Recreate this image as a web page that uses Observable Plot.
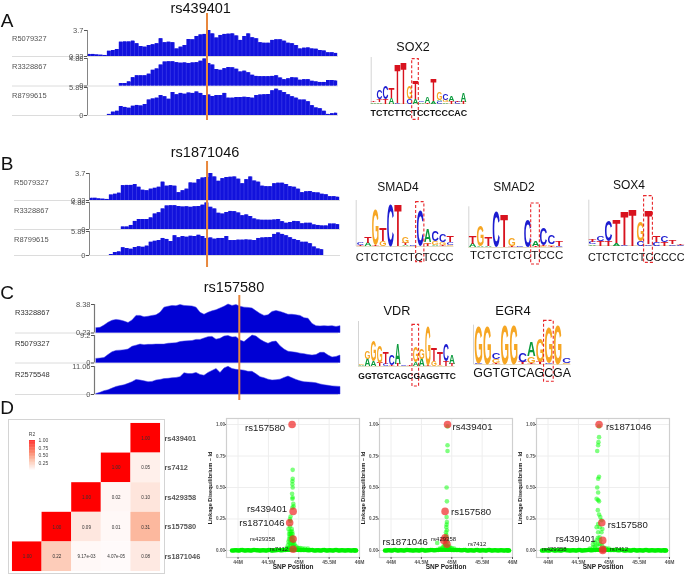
<!DOCTYPE html>
<html><head><meta charset="utf-8">
<style>
html,body{margin:0;padding:0;background:#fff}
#root{position:relative;width:685px;height:575px;overflow:hidden;font-family:"Liberation Sans",Arial,sans-serif;filter:blur(.35px)}
#root svg{overflow:visible}
.lbl{position:absolute;white-space:nowrap;line-height:1}
</style>
<script src="https://cdn.jsdelivr.net/npm/d3@7"></script>
<script src="https://cdn.jsdelivr.net/npm/@observablehq/plot@0.6"></script>
</head><body><div id="root"></div>
<script>
// ---- signal tracks: height of each bin as % of the track's axis range
const r5079327a = [8,8,6,5,4,20,23,27,55,56,56,59,49,38,36,42,45,49,68,53,55,53,29,36,42,65,64,77,83,85,100,87,71,81,85,86,87,79,62,77,87,72,68,53,51,51,62,64,64,59,51,49,42,29,32,33,29,28,23,21,14,14,12];
const r3328867a = [0,0,0,0,0,0,0,0,9,9,15,30,37,37,37,43,57,62,76,87,88,88,85,83,84,82,84,85,90,98,82,76,60,57,63,67,66,61,51,54,48,39,35,34,34,34,35,37,29,23,26,30,29,21,23,23,17,15,13,13,20,20,18];
const r8799615a = [0,0,0,0,0,4,12,15,32,29,26,33,36,34,39,55,59,62,71,67,58,82,74,79,76,80,79,84,79,71,73,68,71,71,79,62,62,64,64,65,64,62,71,73,74,75,88,94,88,82,74,67,62,55,55,49,35,27,24,15,4,6,8];
const r3328867c = [17,18,26,36,43,46,44,40,35,44,60,60,55,57,60,62,71,89,92,95,94,98,95,94,93,89,71,64,71,76,80,86,92,100,95,98,92,89,88,86,76,67,60,62,74,77,74,69,64,64,62,60,52,50,32,24,23,24,23,24,21,24];
const r5079327c = [15,16,18,29,39,44,45,46,49,59,63,67,65,66,66,67,67,67,70,71,72,76,78,79,80,84,84,89,94,95,85,88,96,98,93,94,82,76,88,100,96,85,76,70,76,78,61,49,41,39,37,34,32,29,27,29,37,37,27,20,22,27];
const r2575548c = [2,6,12,15,21,27,30,33,38,44,52,50,47,44,45,50,52,55,56,58,59,62,76,73,73,77,70,67,77,84,91,77,93,99,91,88,87,85,81,81,72,62,58,53,50,51,53,59,64,58,52,47,44,43,42,40,36,33,31,29,28,27];
const blue = "#1212dc", blueHalo = "#3a3ae6", deepBlue = "#0000d4", orange = "#e8873c";

// ---- sequence logos: bottom-to-top [letter, height] per position
const sox2Stacks = [[["A",5],["T",5]],[["A",5],["T",8],["C",28]],[["T",15],["C",40]],[["A",18],["T",30]],[["C",2],["T",120]],[["T",125]],[["C",15],["G",40]],[["A",15],["T",55]],[["A",4],["C",4]],[["T",3],["A",20]],[["A",8],["T",68]],[["C",8],["A",4],["G",22]],[["A",5],["G",6],["C",18]],[["T",8],["A",14]],[["C",6],["T",4]],[["T",6],["A",28]]];
const smad4Stacks = [[["T",4],["C",6]],[["A",10],["T",20]],[["T",4],["G",105]],[["G",15],["T",38]],[["C",125]],[["T",127]],[["A",4],["T",6],["G",20]],[["C",2]],[["C",105]],[["T",8],["G",5],["A",38]],[["A",5],["G",10],["C",30]],[["T",5],["G",8],["C",22]],[["G",5],["C",8],["T",18]]];
const smad2Stacks = [[["A",10],["T",25]],[["A",5],["G",62]],[["A",4],["T",28]],[["C",105]],[["T",100]],[["T",3],["G",22]],[["C",2]],[["C",82]],[["T",5],["A",15]],[["G",4],["T",4],["C",52]],[["T",5],["G",5],["C",28]],[["C",5],["T",14]]];
const sox4Stacks = [[["A",4],["C",6],["T",8]],[["T",15],["C",16]],[["T",15],["C",63]],[["A",8],["T",72]],[["C",2],["T",103]],[["T",110]],[["C",15],["G",60]],[["C",4],["T",104]],[["C",10],["T",20]],[["T",12],["C",20]],[["C",4],["T",12]],[["C",3],["T",3]]];
const vdrStacks = [[["A",3],["G",5]],[["A",22],["G",25]],[["A",15],["G",62]],[["T",10],["G",52]],[["C",8],["T",35]],[["T",5],["C",33]],[["T",8],["A",62]],[["C",3]],[["T",3]],[["A",12],["G",46]],[["A",22],["G",30]],[["T",5],["G",117]],[["G",15],["T",40]],[["G",5],["T",38]],[["T",15],["C",50]],[["T",8],["A",28]]];
const egr4Stacks = [[["C",4],["G",112]],[["G",116]],[["T",4],["G",12],["C",20]],[["G",118]],[["G",118]],[["T",8],["C",28]],[["T",5],["G",20],["A",45]],[["T",8],["G",72]],[["C",5],["G",108]],[["G",118]],[["G",5],["C",14]]];
const letterColor = {A:"#0a9a3c",C:"#1c1cd0",G:"#f6a623",T:"#d8121e"};

// ---- LD heatmap (bottom row first in order of columns)
const snpOrder = ["rs1871046","rs157580","rs429358","rs7412","rs439401"];
const r2rs439401 = [null,null,null,null,1];
const r2rs7412 = [null,null,null,1,0.05];
const r2rs429358 = [null,null,1,0.02,0.10];
const r2rs157580 = [null,1,0.09,0.01,0.31];
const r2rs1871046 = [1,0.22,9.17e-3,4.07e-5,0.08];

// ---- LD scatter: shared baseline of SNPs
const baseMb = [43.9,43.95,44,44.05,44.1,44.15,44.2,44.25,44.3,44.35,44.4,44.45,44.5,44.55,44.6,44.65,44.7,44.75,44.8,44.85,44.9,44.95,45,45.05,45.1,45.15,45.2,45.25,45.3,45.35,45.4,45.45,45.5,45.55,45.6,45.65,45.7,45.75,45.8,45.85,45.9,45.92];
const baseLd = [0,0.002,0,0.003,0,0.002,0,0.003,0.001,0,0.002,0,0.003,0,0.002,0.003,0.001,0.004,0.005,0.006,0.006,0.005,0.004,0.004,0.003,0.002,0.003,0,0.002,0,0.003,0,0.002,0,0.003,0,0.002,0,0.002,0,0.001,0];
const ldAMb = [44.90,44.90,44.895,44.895,44.90,44.89,44.90,44.895,44.91,44.915,44.895,44.865,44.855,44.86,44.855,44.83,44.885,44.85,44.87,44.89,44.84,44.86,44.88,44.90,44.85,44.87,44.89,44.91,44.84,44.86,44.88,44.90,44.92,44.83,44.85,44.87,44.89,44.91,44.93,44.82,44.85,44.87,44.90,44.93,44.96,44.80,44.83,44.98,45.0,45.03,45.06,45.10,45.15];
const ldALd = [0.64,0.57,0.55,0.525,0.50,0.45,0.42,0.41,0.37,0.35,0.34,0.27,0.25,0.235,0.19,0.17,0.17,0.15,0.15,0.15,0.13,0.13,0.13,0.13,0.11,0.11,0.11,0.10,0.09,0.09,0.09,0.08,0.07,0.07,0.06,0.06,0.06,0.05,0.05,0.04,0.03,0.03,0.03,0.03,0.03,0.02,0.02,0.02,0.02,0.02,0.015,0.015,0.015];
const ldBMb = [44.93,44.93,44.93,44.915,44.92,44.915,44.92,44.91,44.905,44.91,44.89,44.93,44.90,44.92,44.88,44.86,44.91,44.94,44.96,44.84,44.98,45.0,45.04,44.76,44.80,44.92,44.915,44.91,44.90];
const ldBLd = [0.985,0.835,0.79,0.50,0.39,0.265,0.225,0.185,0.145,0.11,0.08,0.07,0.05,0.04,0.04,0.03,0.03,0.03,0.03,0.02,0.02,0.02,0.015,0.06,0.015,0.16,0.205,0.125,0.095];
const ldCMb = [44.84,44.84,44.83,44.825,44.81,44.84,44.825,44.81,44.825,44.80,44.825,44.84,44.82,44.84,44.86,44.88,44.825,44.85,44.895,44.80,44.88,44.825,44.85,44.80,44.74,44.77,44.80,44.83,44.86,44.89,44.77,44.74,44.92,44.95,45.0,44.69,44.82,44.86];
const ldCLd = [0.985,0.90,0.86,0.835,0.79,0.585,0.57,0.50,0.46,0.41,0.40,0.39,0.32,0.285,0.265,0.24,0.21,0.185,0.17,0.185,0.145,0.145,0.105,0.08,0.05,0.065,0.04,0.05,0.05,0.04,0.03,0.025,0.02,0.02,0.015,0.015,0.10,0.08];
const hiA = [["rs157580",44.89,1.0,9.6,"end",-7,3],["rs439401",44.907,0.31,9.6,"end",-6,-2],["rs1871046",44.85,0.22,9.6,"end",-5,0],["rs429358",44.907,0.09,6,"end",-18,0],["rs7412",44.907,0.01,6,"end",-5,0]];
const hiB = [["rs439401",44.93,1.0,9.6,"start",5,2],["rs157580",44.89,0.31,9.6,"start",6,1],["rs1871046",44.87,0.08,9.6,"end",-16,2],["rs429358",44.89,0.10,6,"start",-14,1],["rs7412",44.92,0.05,6,"start",21,0]];
const hiC = [["rs1871046",44.84,1.0,9.6,"start",7,2],["rs157580",44.885,0.22,9.6,"start",6,2],["rs439401",44.90,0.08,9.6,"end",-7,-1],["rs429358",44.90,0.01,6,"end",-36,0],["rs7412",44.90,0.0,6,"start",7,-1]];
const mbTicks = [44,44.5,45,45.5,46];
const ldTicks = [0,0.25,0.5,0.75,1];

const root = document.getElementById("root");
const font = '"Liberation Sans",Arial,sans-serif';
const svgStyle = {background:"transparent",overflow:"visible",fontFamily:font};
function place(node,left,top){node.style.position="absolute";node.style.left=left+"px";node.style.top=top+"px";root.append(node);return node;}
function label(t,cx,cy,size,opt={}){const d=document.createElement("div");d.className="lbl";d.textContent=t;d.style.fontSize=size+"px";d.style.left=cx+"px";d.style.top=cy+"px";d.style.color=opt.color||"#111";if(opt.weight)d.style.fontWeight=opt.weight;d.style.transform=opt.left?"translateY(-50%)":"translate(-50%,-50%)";root.append(d);}

// ---- tracks
function track(values,{x0,x1,top,bottom,bins,labels,style,ruleFrom}){
  const ml=x0-ruleFrom, w=x1-ruleFrom, h=bottom-top;
  const binW=(x1-x0)/bins;
  const marks=[];
  marks.push(Plot.ruleY([0],{x1:-ml/binW,x2:bins,stroke:"#dcdcdc"}));
  if(style==="bars"){
    marks.push(Plot.areaY(values,{x:(d,i)=>i+.5,y:d=>d,curve:"step",fill:blueHalo}));
    marks.push(Plot.rect(values,{x1:(d,i)=>i,x2:(d,i)=>i+.8,y1:0,y2:d=>d,fill:blue}));
  } else {
    marks.push(Plot.areaY(values,{x:(d,i)=>i+.5,y:d=>d,fill:deepBlue,stroke:"#3a3ae6",strokeWidth:.5}));
  }
  marks.push(Plot.ruleX([0],{y1:0,y2:100,stroke:"#777",strokeWidth:style==="bars"?.9:1.2}));
  marks.push(Plot.axisY([0,100],{anchor:"left",tickSize:3,tickPadding:1,fontSize:7.5,color:"#555",label:null,tickFormat:d=>d===100?labels[0]:labels[1]}));
  place(Plot.plot({width:w,height:h+8,marginLeft:ml,marginRight:0,marginTop:4,marginBottom:4,
    x:{domain:[0,bins],axis:null},y:{domain:[0,100],axis:null},style:svgStyle,marks}),ruleFrom,top-4);
}
function snpLine(x0,x1,bins,bin,top,bottom){
  place(Plot.plot({width:x1-x0,height:bottom-top,margin:0,x:{domain:[0,bins],axis:null},y:{domain:[0,1],axis:null},style:svgStyle,
    marks:[Plot.ruleX([bin],{stroke:orange,strokeWidth:2})]}),x0,top);
}
// A
track(r5079327a,{x0:87,x1:338,top:30,bottom:56,bins:63,labels:["3.7","0.32"],style:"bars",ruleFrom:12});
track(r3328867a,{x0:87,x1:338,top:58,bottom:85.5,bins:63,labels:["4.88","0"],style:"bars",ruleFrom:12});
track(r8799615a,{x0:87,x1:338,top:87,bottom:115,bins:63,labels:["5.89","0"],style:"bars",ruleFrom:12});
snpLine(87,338,63,30,13,120);
// B
track(r5079327a,{x0:89,x1:340,top:173,bottom:200,bins:63,labels:["3.7","0.32"],style:"bars",ruleFrom:14});
track(r3328867a,{x0:89,x1:340,top:202,bottom:229,bins:63,labels:["4.88","0"],style:"bars",ruleFrom:14});
track(r8799615a.slice(0,59),{x0:89,x1:340,top:231,bottom:255,bins:63,labels:["5.89","0"],style:"bars",ruleFrom:14});
snpLine(89,340,63,29.5,161,267);
// C
track(r3328867c,{x0:94,x1:338,top:304,bottom:332.5,bins:61,labels:["8.38","0.23"],style:"area",ruleFrom:15});
track(r5079327c,{x0:94,x1:338,top:335,bottom:362.5,bins:61,labels:["9.2","0"],style:"area",ruleFrom:15});
track(r2575548c,{x0:94,x1:338,top:366,bottom:394,bins:61,labels:["11.06","0"],style:"area",ruleFrom:15});
snpLine(94,338,61,36.2,295,400);

label("A",7,20,19); label("B",7,163,19); label("C",7,292,19); label("D",7,407,19);
label("rs439401",200.7,7.5,14.5); label("rs1871046",205,152,14.5); label("rs157580",234,287,14.5);
[["R5079327",39],["R3328867",67],["R8799615",96]].forEach(([n,y])=>label(n,12,y,7.5,{left:true,color:"#555"}));
[["R5079327",183],["R3328867",211],["R8799615",240]].forEach(([n,y])=>label(n,14,y,7.5,{left:true,color:"#555"}));
[["R3328867",313],["R5079327",344],["R2575548",375]].forEach(([n,y])=>label(n,15,y,7.5,{left:true,color:"#333"}));

// ---- logos
const glyphW = {A:7.2,C:7.2,G:7.8,T:6.1};
function logo(stacks,{title,tx,ty,tsize,seq,seqSize,seqBold,seqPos,seqY,x0,step,baseY,axisX,axisTop,boxPos,boxTop,boxBottom}){
  const rows=[];
  stacks.forEach((st,pos)=>{let b=0;st.forEach(([letter,h])=>{rows.push({pos,letter,base:b,h});b+=h;});});
  const left=x0-10, top=baseY-60, n=stacks.length;
  const px=x0-left;
  const node=Plot.plot({width:step*n+14,height:90,margin:0,
    x:{domain:[0,n-1],range:[px,px+step*(n-1)],axis:null},
    y:{domain:[0,138],range:[60,60-46],axis:null},style:svgStyle,
    marks:[
      Plot.ruleX([(axisX-x0)/step],{y1:0,y2:axisTop,stroke:"#d4d4d4"}),
      Plot.ruleY([0],{x1:-.5,x2:n-.5,stroke:"#e4dcc4",strokeWidth:1}),
      Plot.text(rows,{x:"pos",y:"base",text:"letter",fill:d=>letterColor[d.letter],fontSize:10,fontWeight:"bold",
        render(index,scales,values,dims,ctx,next){
          const g=next(index,scales,values,dims,ctx);
          d3.select(g).selectAll("text").each(function(_,j){
            const d=rows[index[j]];
            const sx=step*.98/glyphW[d.letter], sy=(d.h/3)/7.1;
            d3.select(this).attr("text-anchor","middle").attr("dy",null).attr("y",0).attr("x",0)
              .attr("transform",`translate(${scales.x(d.pos)},${scales.y(d.base)}) scale(${sx},${sy})`);
          });
          return g;
        }}),
      Plot.rect([boxPos],{x1:d=>d-.55,x2:d=>d+.55,y1:boxBottom,y2:boxTop,fill:"none",stroke:"#e8262a",strokeWidth:1.1,strokeDasharray:"3,2"}),
      Plot.text([seq],{x:()=>seqPos,y:()=>seqY,text:d=>d,fontSize:seqSize,fontWeight:seqBold?"bold":"normal",fill:"#111"})
    ]});
  place(node,left,top);
  label(title,tx,ty,tsize);
}
logo(sox2Stacks,{title:"SOX2",tx:413,ty:47,tsize:12.5,seq:"TCTCTTCTCCTCCCAC",seqSize:8.9,seqBold:true,seqPos:7.56,seqY:-29,x0:373.3,step:6,baseY:102.7,axisX:371,axisTop:138,boxPos:7,boxTop:133,boxBottom:-49});
logo(smad4Stacks,{title:"SMAD4",tx:398,ty:187,tsize:12,seq:"CTCTCTCTCTCCC",seqSize:11.1,seqPos:5.9,seqY:-34,x0:360,step:7.47,baseY:246,axisX:355.7,axisTop:138,boxPos:8,boxTop:133,boxBottom:-47});
logo(smad2Stacks,{title:"SMAD2",tx:514,ty:187,tsize:12,seq:"TCTCTCTCTCCC",seqSize:11.5,seqPos:5.6,seqY:-24,x0:472,step:7.88,baseY:247.3,axisX:468.3,axisTop:122,boxPos:8,boxTop:132,boxBottom:-51});
logo(sox4Stacks,{title:"SOX4",tx:629,ty:185,tsize:12,seq:"CTCTCTCTCCCCC",seqSize:10.8,seqPos:5.46,seqY:-36,x0:591.7,step:8,baseY:245.3,axisX:588,axisTop:136,boxPos:7,boxTop:148,boxBottom:-52});
logo(vdrStacks,{title:"VDR",tx:397,ty:311,tsize:12.7,seq:"GGTGTCAGCGAGGTTC",seqSize:8.5,seqBold:true,seqPos:7.56,seqY:-30,x0:360.7,step:6.03,baseY:365.7,axisX:357.7,axisTop:135,boxPos:9,boxTop:125,boxBottom:-60});
logo(egr4Stacks,{title:"EGR4",tx:513,ty:310,tsize:13,seq:"GGTGTCAGCGA",seqSize:12.4,seqPos:4.96,seqY:-25,x0:478.3,step:8.8,baseY:364.3,axisX:473.3,axisTop:118,boxPos:8,boxTop:131,boxBottom:-52});

// ---- heatmap
const r2Scale = {type:"linear",domain:[0,.3,.6,1],range:["#fffafa","#fcbba1","#fb6a4a","#ff0000"]};
const heatRows = [];
[[ "rs439401",r2rs439401],["rs7412",r2rs7412],["rs429358",r2rs429358],["rs157580",r2rs157580],["rs1871046",r2rs1871046]].forEach(([row,vals])=>{
  vals.forEach((v,i)=>{if(v!=null)heatRows.push({row,col:snpOrder[i],v});});
});
const fmtR2 = v=>v<0.01?v.toExponential(2).replace(/e-(\d)$/,"e-0$1"):v.toFixed(2);
const heat = Plot.plot({width:157,height:155,marginLeft:3,marginRight:4,marginTop:3,marginBottom:2,
  style:{...svgStyle,border:"1.2px solid #d4d4d4",boxSizing:"border-box"},
  x:{domain:snpOrder,axis:null,padding:0},
  y:{domain:[...snpOrder].reverse(),padding:0,axis:null},
  color:r2Scale,
  marks:[
    Plot.cell(heatRows,{x:"col",y:"row",fill:"v"}),
    Plot.text(heatRows,{x:"col",y:"row",text:d=>fmtR2(d.v),fontSize:4.6,fill:"#333"}),
    Plot.axisY({anchor:"right",tickSize:0,tickPadding:4,fontSize:7.5,fontWeight:"bold",color:"#555",label:null})
  ]});
place(heat,8,419);
const legendSteps = d3.range(0,1,.025);
place(Plot.plot({width:30,height:34,marginLeft:1,marginRight:23,marginTop:2,marginBottom:2,
  x:{domain:[0,1],axis:null},y:{domain:[0,1],axis:null},color:r2Scale,style:svgStyle,
  marks:[
    Plot.rect(legendSteps,{x1:0,x2:1,y1:d=>d,y2:d=>d+.025,fill:d=>d}),
    Plot.axisY([.25,.5,.75,1],{anchor:"right",tickSize:0,tickPadding:3,fontSize:5,color:"#444",tickFormat:".2f",label:null})
  ]}),28,437.5);
label("R2",32,434,5,{color:"#444"});

// ---- LD scatter panels
function ldPanel(frameLeft,mb,ld,hi){
  const extra=mb.map((x,i)=>({x,y:ld[i]}));
  const base=baseMb.map((x,i)=>({x,y:baseLd[i]}));
  const high=hi.map(([name,x,y,size,anchor,dx,dy])=>({name,x,y,size,anchor,dx,dy}));
  const node=Plot.plot({width:148,height:157,marginLeft:14,marginRight:1,marginTop:0,marginBottom:18,
    x:{domain:[43.81,46],axis:null},y:{domain:[-0.056,1.048],axis:null},style:svgStyle,
    marks:[
      Plot.gridX(mbTicks,{stroke:"#eeeeee",strokeOpacity:1}),
      Plot.gridY(ldTicks,{stroke:"#eeeeee",strokeOpacity:1}),
      Plot.frame({stroke:"#cfcfcf",strokeWidth:1.2}),
      Plot.axisX(mbTicks,{anchor:"bottom",tickSize:2,tickPadding:1,fontSize:5,fontWeight:"bold",color:"#555",label:null,tickFormat:d=>d+"M"}),
      Plot.axisY(ldTicks,{anchor:"left",tickSize:1,tickPadding:0.5,fontSize:4.6,fontWeight:"bold",color:"#555",label:null,tickFormat:".2f"}),
      Plot.text(["SNP Position"],{frameAnchor:"bottom",dy:11,fontSize:6.5,fontWeight:"bold",fill:"#222"}),
      Plot.text(["Linkage Disequilibrium – ld"],{frameAnchor:"left",textAnchor:"middle",rotate:-90,dx:-16,fontSize:5.6,fontWeight:"bold",fill:"#222"}),
      Plot.dot(extra,{x:"x",y:"y",r:2.3,fill:"#00ff00",fillOpacity:.5}),
      Plot.dot(base,{x:"x",y:"y",r:2.2,fill:"#00f000"}),
      Plot.dot(base,{x:d=>d.x+.025,y:"y",r:2.2,fill:"#00f000"}),
      Plot.dot(high,{x:"x",y:"y",r:3.8,fill:"#f02c2c",fillOpacity:.72}),
      ...high.map(h=>Plot.text([h],{x:"x",y:"y",text:"name",fontSize:h.size,textAnchor:h.anchor,dx:h.dx,dy:h.dy,fill:"#1a1a1a"})),
    ]});
  place(node,frameLeft-14,418);
}
ldPanel(226,ldAMb,ldALd,hiA);
ldPanel(379,ldBMb,ldBLd,hiB);
ldPanel(536,ldCMb,ldCLd,hiC);
</script></body></html>
